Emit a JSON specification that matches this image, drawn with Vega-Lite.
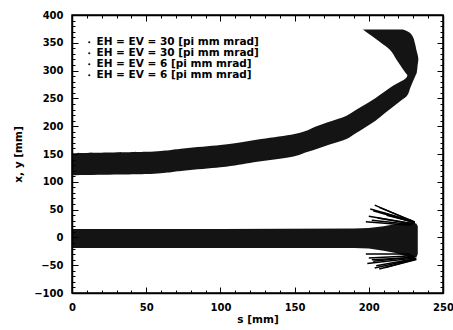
{
  "$schema": "https://vega.github.io/schema/vega-lite/v6.json",
  "width": 371,
  "height": 278,
  "autosize": "none",
  "padding": {"left": 72, "top": 15, "right": 10, "bottom": 37},
  "background": "white",
  "config": {
    "view": {"stroke": "black", "strokeWidth": 1.5},
    "axis": {
      "grid": false,
      "domainColor": "black",
      "domainWidth": 1.5,
      "tickColor": "black",
      "tickWidth": 1,
      "labelFont": "DejaVu Sans",
      "labelFontSize": 10,
      "labelFontWeight": "bold",
      "labelColor": "black",
      "labelFlush": false,
      "titleFont": "DejaVu Sans",
      "titleFontSize": 10.5,
      "titleFontWeight": "bold",
      "titleColor": "black"
    }
  },
  "datasets": {
    "upper": [
      {"v": 112, "sL": 0, "sR": 2, "series": "a"},
      {"v": 114, "sL": 0, "sR": 50, "series": "a"},
      {"v": 120, "sL": 0, "sR": 75, "series": "a"},
      {"v": 126, "sL": 0, "sR": 100, "series": "a"},
      {"v": 135, "sL": 0, "sR": 122.5, "series": "a"},
      {"v": 146, "sL": 0, "sR": 150, "series": "a"},
      {"v": 151, "sL": 0, "sR": 155.6, "series": "a"},
      {"v": 154, "sL": 50, "sR": 159, "series": "a"},
      {"v": 160, "sL": 75, "sR": 165.8, "series": "a"},
      {"v": 166, "sL": 100, "sR": 172.6, "series": "a"},
      {"v": 177, "sL": 127.5, "sR": 185, "series": "a"},
      {"v": 186, "sL": 150, "sR": 190.4, "series": "a"},
      {"v": 200, "sL": 164.8, "sR": 198.8, "series": "a"},
      {"v": 207, "sL": 172.3, "sR": 203, "series": "a"},
      {"v": 219, "sL": 185, "sR": 208.7, "series": "a"},
      {"v": 230, "sL": 191.8, "sR": 214, "series": "a"},
      {"v": 248, "sL": 203, "sR": 222.6, "series": "a"},
      {"v": 254, "sL": 206.2, "sR": 225.5, "series": "a"},
      {"v": 270, "sL": 214.8, "sR": 228.1, "series": "a"},
      {"v": 291, "sL": 226, "sR": 231.5, "series": "a"},
      {"v": 296, "sL": 224.7, "sR": 232.3, "series": "a"},
      {"v": 310, "sL": 221.1, "sR": 232.9, "series": "a"},
      {"v": 320, "sL": 218.6, "sR": 233.4, "series": "a"},
      {"v": 338, "sL": 214, "sR": 232, "series": "a"},
      {"v": 350, "sL": 208.2, "sR": 231, "series": "a"},
      {"v": 362, "sL": 202.3, "sR": 229.5, "series": "a"},
      {"v": 370, "sL": 198, "sR": 226.5, "series": "a"},
      {"v": 374, "sL": 196, "sR": 223, "series": "a"}
    ],
    "lower": [
      {"s": 0, "lo": -19, "hi": 15, "series": "b"},
      {"s": 100, "lo": -19, "hi": 15, "series": "b"},
      {"s": 190, "lo": -19, "hi": 16, "series": "b"},
      {"s": 200, "lo": -20, "hi": 17, "series": "b"},
      {"s": 210, "lo": -24, "hi": 20, "series": "b"},
      {"s": 218, "lo": -28, "hi": 24, "series": "b"},
      {"s": 224, "lo": -33, "hi": 27, "series": "b"},
      {"s": 229, "lo": -37, "hi": 27, "series": "b"},
      {"s": 232, "lo": -36, "hi": 25, "series": "b"},
      {"s": 233, "lo": -30, "hi": 20, "series": "b"}
    ],
    "spikes": [
      {"s1": 204, "v1": 58, "s2": 231, "v2": 27, "series": "b"},
      {"s1": 207, "v1": 54, "s2": 231, "v2": 28, "series": "b"},
      {"s1": 203, "v1": 48, "s2": 230, "v2": 27, "series": "b"},
      {"s1": 209, "v1": 45, "s2": 231, "v2": 26, "series": "b"},
      {"s1": 200, "v1": 38, "s2": 229, "v2": 25, "series": "b"},
      {"s1": 206, "v1": 35, "s2": 230, "v2": 24, "series": "b"},
      {"s1": 198, "v1": 28, "s2": 228, "v2": 22, "series": "b"},
      {"s1": 212, "v1": 40, "s2": 231, "v2": 27, "series": "b"},
      {"s1": 201, "v1": 51, "s2": 229, "v2": 30, "series": "b"},
      {"s1": 202, "v1": 31, "s2": 229, "v2": 23, "series": "b"},
      {"s1": 200, "v1": -37, "s2": 230, "v2": -33, "series": "b"},
      {"s1": 203, "v1": -43, "s2": 231, "v2": -35, "series": "b"},
      {"s1": 199, "v1": -47, "s2": 231, "v2": -37, "series": "b"},
      {"s1": 205, "v1": -51, "s2": 232, "v2": -38, "series": "b"},
      {"s1": 207, "v1": -57, "s2": 232, "v2": -40, "series": "b"},
      {"s1": 211, "v1": -54, "s2": 232, "v2": -39, "series": "b"},
      {"s1": 204, "v1": -55, "s2": 231, "v2": -39, "series": "b"},
      {"s1": 198, "v1": -30, "s2": 228, "v2": -30, "series": "b"},
      {"s1": 202, "v1": -40, "s2": 230, "v2": -36, "series": "b"}
    ]
  },
  "resolve": {"axis": {"x": "independent", "y": "independent"}},
  "layer": [
    {
      "data": {"name": "upper"},
      "mark": {"type": "area", "orient": "horizontal", "opacity": 0.92, "interpolate": "monotone"},
      "encoding": {
        "y": {
          "field": "v", "type": "quantitative",
          "scale": {"domain": [-100, 400], "nice": false, "zero": false},
          "axis": {
            "orient": "left",
            "values": [-100,-90,-80,-70,-60,-50,-40,-30,-20,-10,0,10,20,30,40,50,60,70,80,90,100,110,120,130,140,150,160,170,180,190,200,210,220,230,240,250,260,270,280,290,300,310,320,330,340,350,360,370,380,390,400],
            "labelExpr": "datum.value % 50 == 0 ? datum.label : ''",
            "tickSize": {"condition": {"test": "datum.value % 50 == 0", "value": -6}, "value": -3},
            "labelPadding": 15,
            "title": "x, y [mm]",
            "titlePadding": 10
          }
        },
        "x": {
          "field": "sL", "type": "quantitative", "stack": null,
          "scale": {"domain": [0, 250], "nice": false, "zero": false},
          "axis": {
            "orient": "bottom",
            "values": [0,10,20,30,40,50,60,70,80,90,100,110,120,130,140,150,160,170,180,190,200,210,220,230,240,250],
            "labelExpr": "datum.value % 50 == 0 ? datum.label : ''",
            "tickSize": {"condition": {"test": "datum.value % 50 == 0", "value": -6}, "value": -3},
            "labelPadding": 15,
            "title": "s [mm]",
            "titlePadding": 2
          }
        },
        "x2": {"field": "sR"},
        "color": {
          "field": "series", "type": "nominal",
          "scale": {"domain": ["a", "b", "c", "d"], "range": ["black", "black", "black", "black"]},
          "legend": {
            "orient": "none",
            "legendX": 12,
            "legendY": 22,
            "title": null,
            "padding": 0,
            "symbolType": "circle",
            "symbolSize": 5,
            "symbolStrokeWidth": 0,
            "symbolFillColor": "black",
            "labelFont": "DejaVu Sans",
            "labelFontSize": 10.5,
            "labelFontWeight": "bold",
            "labelColor": "black",
            "labelOffset": 2,
            "labelLimit": 400,
            "rowPadding": -3,
            "labelExpr": "datum.value == 'a' || datum.value == 'b' ? 'EH = EV = 30 [pi mm mrad]' : 'EH = EV = 6 [pi mm mrad]'"
          }
        }
      }
    },
    {
      "data": {"name": "lower"},
      "mark": {"type": "area", "opacity": 0.92},
      "encoding": {
        "x": {
          "field": "s", "type": "quantitative",
          "axis": {
            "orient": "top",
            "values": [0,10,20,30,40,50,60,70,80,90,100,110,120,130,140,150,160,170,180,190,200,210,220,230,240,250],
            "labels": false,
            "tickSize": {"condition": {"test": "datum.value % 50 == 0", "value": -6}, "value": -3},
            "title": null
          }
        },
        "y": {
          "field": "lo", "type": "quantitative", "stack": null,
          "axis": {
            "orient": "right",
            "values": [-100,-90,-80,-70,-60,-50,-40,-30,-20,-10,0,10,20,30,40,50,60,70,80,90,100,110,120,130,140,150,160,170,180,190,200,210,220,230,240,250,260,270,280,290,300,310,320,330,340,350,360,370,380,390,400],
            "labels": false,
            "tickSize": {"condition": {"test": "datum.value % 50 == 0", "value": -6}, "value": -3},
            "title": null
          }
        },
        "y2": {"field": "hi"},
        "color": {"field": "series", "type": "nominal"}
      }
    },
    {
      "data": {"name": "spikes"},
      "mark": {"type": "rule", "strokeWidth": 1.5},
      "encoding": {
        "x": {"field": "s1", "type": "quantitative", "axis": null},
        "y": {"field": "v1", "type": "quantitative", "axis": null},
        "x2": {"field": "s2"},
        "y2": {"field": "v2"},
        "color": {"field": "series", "type": "nominal"}
      }
    }
  ]
}
